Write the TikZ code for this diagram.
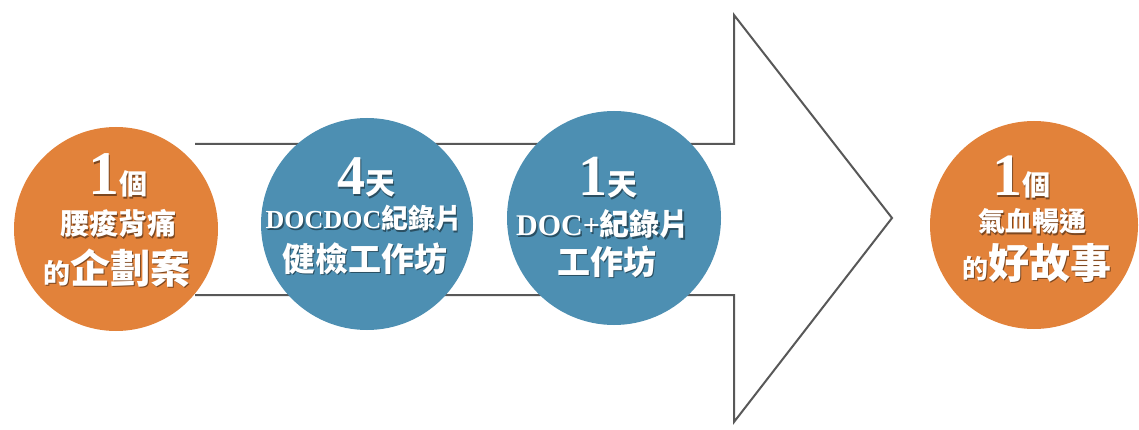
\documentclass[tikz,border=0pt]{standalone}
\usepackage{fontspec}
\setmainfont{Liberation Serif}
\newfontfamily\cjk{Noto Sans CJK TC}
\newcommand\fs[1]{\fontsize{#1}{#1}\selectfont}
\newcommand\shadowtxt[2]{\rlap{\color{#1}\raisebox{-1.6pt}{\kern1.4pt#2}}#2}
\definecolor{ballorange}{RGB}{226,130,58}
\definecolor{ballblue}{RGB}{77,143,178}
\definecolor{arrowgray}{RGB}{88,88,88}
\tikzset{
    ball/.style={circle, inner sep=0pt, minimum size=#1},
    txt/.style={text=white, anchor=base, inner sep=0pt, font=\bfseries}
}
\begin{document}
\begin{tikzpicture}[x=1pt, y=-1pt]
        \useasboundingbox (0,0) rectangle (1139,430);
        \draw[arrowgray, line width=2pt] (195,144) -- (734,144) -- (734,15) -- (892,218)
            -- (734,422) -- (734,295) -- (195,295);

        \foreach \name/\x/\y/\d/\col in {plan/116/229/204/ballorange, checkup/367/224/212/ballblue,
                workshop/614/218/214/ballblue, story/1034/225/208/ballorange} {
            \node[ball=\d pt, fill=\col] (\name) at (\x,\y) {};
        }

        \node[txt] (plan1) at (118,195) {\shadowtxt{ballorange!55!black}{\fs{62}1\cjk\fs{28}個}};
        \node[txt] (plan2) at (118,235) {\shadowtxt{ballorange!55!black}{\cjk\fs{29}腰痠背痛}};
        \node[txt] (plan3) at (117,283) {\shadowtxt{ballorange!55!black}{\cjk\fs{27}的\fs{40}企劃案}};

        \node[txt] (checkup1) at (366,195) {\shadowtxt{ballblue!55!black}{\fs{56}4\cjk\fs{30}天}};
        \node[txt] (checkup2) at (364,229) {\shadowtxt{ballblue!55!black}{\fs{26}DOCDOC\cjk\fs{27}紀錄片}};
        \node[txt] (checkup3) at (365,271) {\shadowtxt{ballblue!55!black}{\cjk\fs{33}健檢工作坊}};

        \node[txt] (workshop1) at (608,196) {\shadowtxt{ballblue!55!black}{\fs{58}1\cjk\fs{30}天}};
        \node[txt] (workshop2) at (603,236) {\shadowtxt{ballblue!55!black}{\fs{30}DOC+\cjk\fs{30}紀錄片}};
        \node[txt] (workshop3) at (607,274) {\shadowtxt{ballblue!55!black}{\cjk\fs{33}工作坊}};

        \node[txt] (story1) at (1021,196) {\shadowtxt{ballorange!55!black}{\fs{60}1\cjk\fs{28}個}};
        \node[txt] (story2) at (1032,232) {\shadowtxt{ballorange!55!black}{\cjk\fs{27}氣血暢通}};
        \node[txt] (story3) at (1037,278) {\shadowtxt{ballorange!55!black}{\cjk\fs{26}的\fs{41}好故事}};
\end{tikzpicture}
\end{document}
